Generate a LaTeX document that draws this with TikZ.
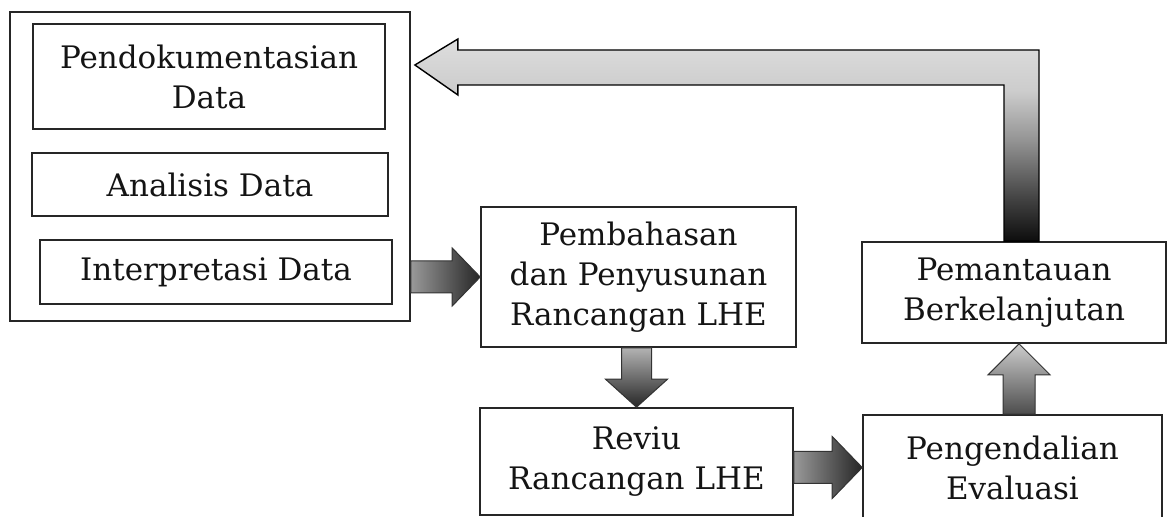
\documentclass[tikz,border=0pt]{standalone}
\usepackage{fontspec}
\setmainfont{DejaVu Serif}
\usetikzlibrary{calc}
\pgfdeclareverticalshading{feedback}{100bp}{color(0bp)=(black!95); color(25bp)=(black!95); color(35bp)=(black!75); color(50bp)=(black!42); color(62bp)=(black!20); color(75bp)=(black!13); color(100bp)=(black!13)}
\tikzset{
  box/.style={draw=black!85, line width=1.6pt, inner sep=0pt, align=center, text=black!92, font=\fontsize{31}{40}\selectfont},
  blockarrow/.style={draw=black!80, line width=1pt, line join=miter},
  hshade/.style={blockarrow, left color=black!40, right color=black!85},
  vshade/.style={blockarrow, top color=black!30, bottom color=black!85},
  ushade/.style={blockarrow, top color=black!20, bottom color=black!70},
}
\begin{document}
\begin{tikzpicture}[x=1pt,y=1pt]
  \useasboundingbox (0,0) rectangle (1168,517);
  \clip (0,0) rectangle (1168,517);
  % left group
  \node[box, line width=1.8pt, minimum width=400, minimum height=309] (group) at (210,350.5) {};
  \node[box, minimum width=352, minimum height=105] (dok) at (209,440.5) {Pendokumentasian\\Data};
  \node[box, line width=1.2pt, minimum width=356, minimum height=63] (analisis) at (210,332.5) {Analisis Data};
  \node[box, line width=1.8pt, minimum width=352, minimum height=64] (interp) at (216,245) {Interpretasi Data};
  % process steps
  \node[box, minimum width=315, minimum height=140] (bahas) at (638.5,240) {Pembahasan\\dan Penyusunan\\Rancangan LHE};
  \node[box, minimum width=313, minimum height=107] (reviu) at (636.5,55.5) {Reviu\\Rancangan LHE};
  \node[box, minimum width=299, minimum height=105] (kendali) at (1012.5,49.5) {Pengendalian\\Evaluasi};
  \node[box, minimum width=304, minimum height=101] (pantau) at (1014,224.5) {Pemantauan\\Berkelanjutan};
  % block arrows
  \path[hshade] ($(group.east |- bahas.west)+(0,16)$) -- ($(bahas.west)+(-28,16)$) -- ($(bahas.west)+(-28,29)$) -- (bahas.west)
    -- ($(bahas.west)+(-28,-29)$) -- ($(bahas.west)+(-28,-16)$) -- ($(group.east |- bahas.west)+(0,-16)$) -- cycle;
  \path[vshade] ($(bahas.south -| reviu.north)+(-15,0)$) -- ($(reviu.north)+(-15,28)$) -- ($(reviu.north)+(-31,28)$) -- (reviu.north)
    -- ($(reviu.north)+(31,28)$) -- ($(reviu.north)+(15,28)$) -- ($(bahas.south -| reviu.north)+(15,0)$) -- cycle;
  \path[hshade] ($(reviu.east |- kendali.west)+(0,16)$) -- ($(kendali.west)+(-30,16)$) -- ($(kendali.west)+(-30,31)$) -- (kendali.west)
    -- ($(kendali.west)+(-30,-31)$) -- ($(kendali.west)+(-30,-16)$) -- ($(reviu.east |- kendali.west)+(0,-16)$) -- cycle;
  \coordinate (uptip) at ($(pantau.south)+(5,0)$);
  \path[ushade] ($(kendali.north -| uptip)+(-16,0)$) -- ($(uptip)+(-16,-31)$) -- ($(uptip)+(-31,-31)$) -- (uptip)
    -- ($(uptip)+(31,-31)$) -- ($(uptip)+(16,-31)$) -- ($(kendali.north -| uptip)+(16,0)$) -- cycle;
  % feedback arrow
  \coordinate (fbfoot) at ($(pantau.north)+(7.5,0)$);
  \coordinate (fbtip) at ($(group.east)+(4,101.5)$);
  \path[blockarrow, draw=black, line width=1.4pt, shading=feedback] ($(fbfoot)+(-17.5,0)$) |- ($(fbtip)+(43,-20)$)
    -- ($(fbtip)+(43,-30)$) -- (fbtip) -- ($(fbtip)+(43,26)$) -- ($(fbtip)+(43,15)$) -| ($(fbfoot)+(17.5,0)$) -- cycle;
\end{tikzpicture}
\end{document}
